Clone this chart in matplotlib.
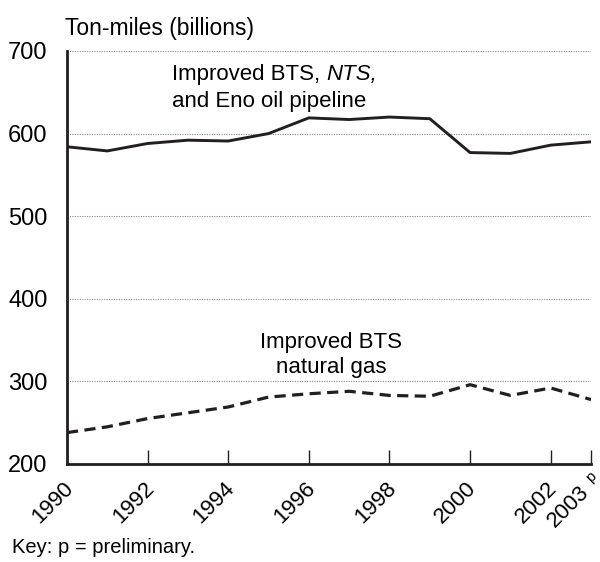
import matplotlib.pyplot as plt

plt.rcParams['font.family'] = ['Liberation Sans', 'DejaVu Sans']

years = [1990, 1991, 1992, 1993, 1994, 1995, 1996, 1997, 1998, 1999, 2000, 2001, 2002, 2003]
oil = [584, 579, 588, 592, 591, 600, 619, 617, 620, 618, 577, 576, 586, 590]
gas = [238, 245, 255, 262, 269, 281, 285, 288, 283, 282, 296, 283, 292, 278]

xticks = [1992, 1994, 1996, 1998, 2000, 2002, 2003]
xlabel_pos = [1990, 1992, 1994, 1996, 1998, 2000, 2002, 2003]
xlabels = ['1990', '1992', '1994', '1996', '1998', '2000', '2002', '2003']
yticks = [200, 300, 400, 500, 600, 700]

fig = plt.figure(figsize=(6, 5.62), dpi=100)
ax = fig.add_axes([0.1117, 0.1744, 0.8733, 0.7349])

# dotted gridlines
for y in yticks[1:]:
    ax.axhline(y, color='#888888', lw=0.8, ls=(0, (1, 1.2)), zorder=1)

ax.plot(years, oil, color='#231f20', lw=2.1, zorder=3)
ax.plot(years, gas, color='#231f20', lw=2.3, ls=(0, (3.5, 2)), zorder=3)

ax.set_xlim(1990, 2003)
ax.set_ylim(200, 700)
for s in ['top', 'right']:
    ax.spines[s].set_visible(False)
for s in ['left', 'bottom']:
    ax.spines[s].set_linewidth(2)
    ax.spines[s].set_color('#231f20')

ax.set_yticks(yticks)
ax.set_yticklabels([str(v) for v in yticks], fontsize=17)
ax.tick_params(axis='y', length=0, pad=14)

ax.set_xticks(xticks)
ax.set_xticklabels([])
ax.tick_params(axis='x', direction='in', length=10, width=1, color='#231f20')

# rotated year labels
for x, lab in zip(xlabel_pos, xlabels):
    dx = -0.3 if lab == '2003' else -0.1
    dy = 179 if lab == '2003' else 183
    ax.text(x + dx, dy, lab, rotation=45, ha='right', va='top',
            fontsize=16, rotation_mode='anchor', clip_on=False)
ax.text(2003.0, 184, 'p', fontsize=11, ha='center', va='center', rotation=45)

t1 = ax.text(1992.6, 671, 'Improved BTS, ', fontsize=16, ha='left', va='center')
fig.canvas.draw()
bb = t1.get_window_extent()
x_end = ax.transData.inverted().transform((bb.x1, bb.y0))[0]
ax.text(x_end, 671, 'NTS,', fontsize=16, ha='left', va='center', style='italic')
ax.text(1992.6, 639, 'and Eno oil pipeline', fontsize=16, ha='left', va='center')

ax.text(1996.55, 332, 'Improved BTS\nnatural gas', fontsize=16, ha='center', va='center',
        linespacing=1.3)

fig.text(0.108, 0.950, 'Ton-miles (billions)', fontsize=16.5, ha='left', va='center')
fig.text(0.02, 0.025, 'Key: p = preliminary.', fontsize=14.5, ha='left', va='center')

fig.savefig('out.png', dpi=100)
